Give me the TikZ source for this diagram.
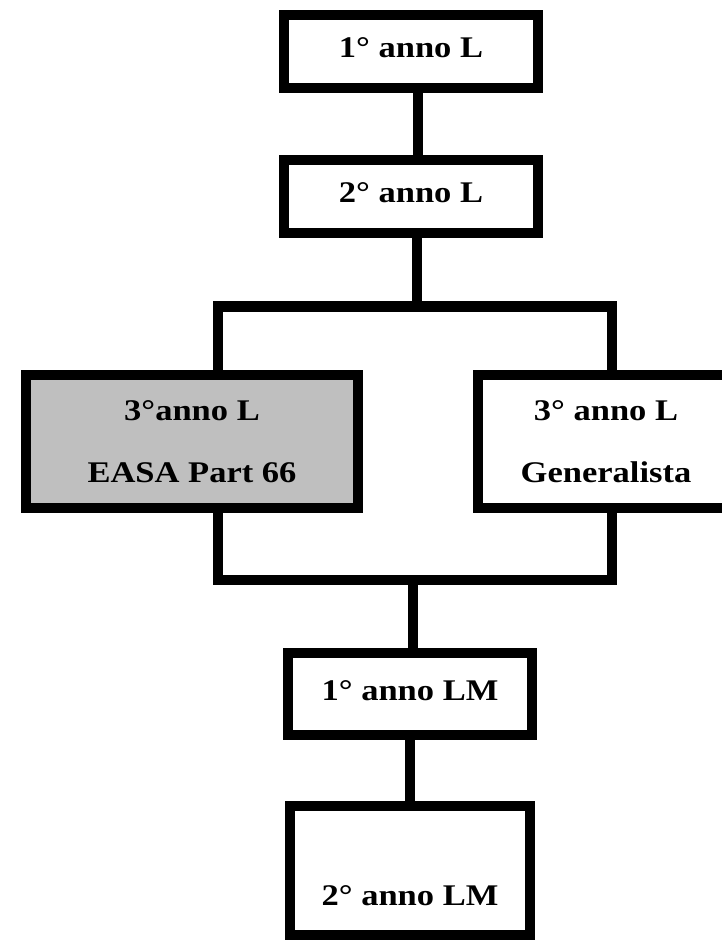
\documentclass[tikz,border=0pt]{standalone}
\usepackage{fontspec}
\setmainfont{Liberation Serif}[FakeStretch=1.15]
\definecolor{easagray}{RGB}{191, 191, 191}
\usetikzlibrary{positioning}

\begin{document}
\begin{tikzpicture}[x=1pt, y=-1pt,
  yearbox/.style={draw=black, line width=10.5pt, fill=white, inner sep=0pt,
    font=\bfseries\fontsize{30}{36}\selectfont, text height=20pt, text depth=8pt},
  twobox/.style={draw=black, line width=10.5pt, fill=white, inner sep=0pt,
    align=center, font=\bfseries\fontsize{30}{62}\selectfont,
    minimum width=332pt, minimum height=133pt},
  link/.style={draw=black, line width=10.5pt}]
  \useasboundingbox (0, 0) rectangle (722, 940);
  \clip (0, 0) rectangle (722, 940);

  % Laurea, first two years
  \node[yearbox, minimum width=254pt, minimum height=73pt] (l1) at (411, 51.5) {1° anno L};
  \node[yearbox, minimum width=254pt, minimum height=73pt] (l2) at (411, 196.5) {2° anno L};

  % Third year, two tracks
  \node[twobox, fill=easagray] (easa) at (192, 441.5) {3°anno L\\EASA Part 66};
  \node[twobox, minimum width=256pt] (gen) at (606, 441.5) {3° anno L\\Generalista};

  % Laurea Magistrale
  \node[yearbox, minimum width=244pt, minimum height=82pt] (lm1) at (410, 694) {1° anno LM};
  \node[yearbox, minimum width=240pt, minimum height=129pt, text height=77pt] (lm2) at (410, 870.5) {2° anno LM};

  \coordinate (split) at (417, 306.5);
  \coordinate (merge) at (413, 580);

  % Connectors
  \draw[link] ([xshift=7pt]l1.south) -- ([xshift=7pt]l2.north);
  \draw[link] ([xshift=6pt]l2.south) -- (split);
  \draw[link] ([xshift=26pt]easa.north) |- (split) -| ([xshift=6pt]gen.north);
  \draw[link] ([xshift=26pt]easa.south) |- (merge) -| ([xshift=6pt]gen.south);
  \draw[link] (merge) -- ([xshift=3pt]lm1.north);
  \draw[link] (lm1.south) -- (lm2.north);
\end{tikzpicture}
\end{document}
